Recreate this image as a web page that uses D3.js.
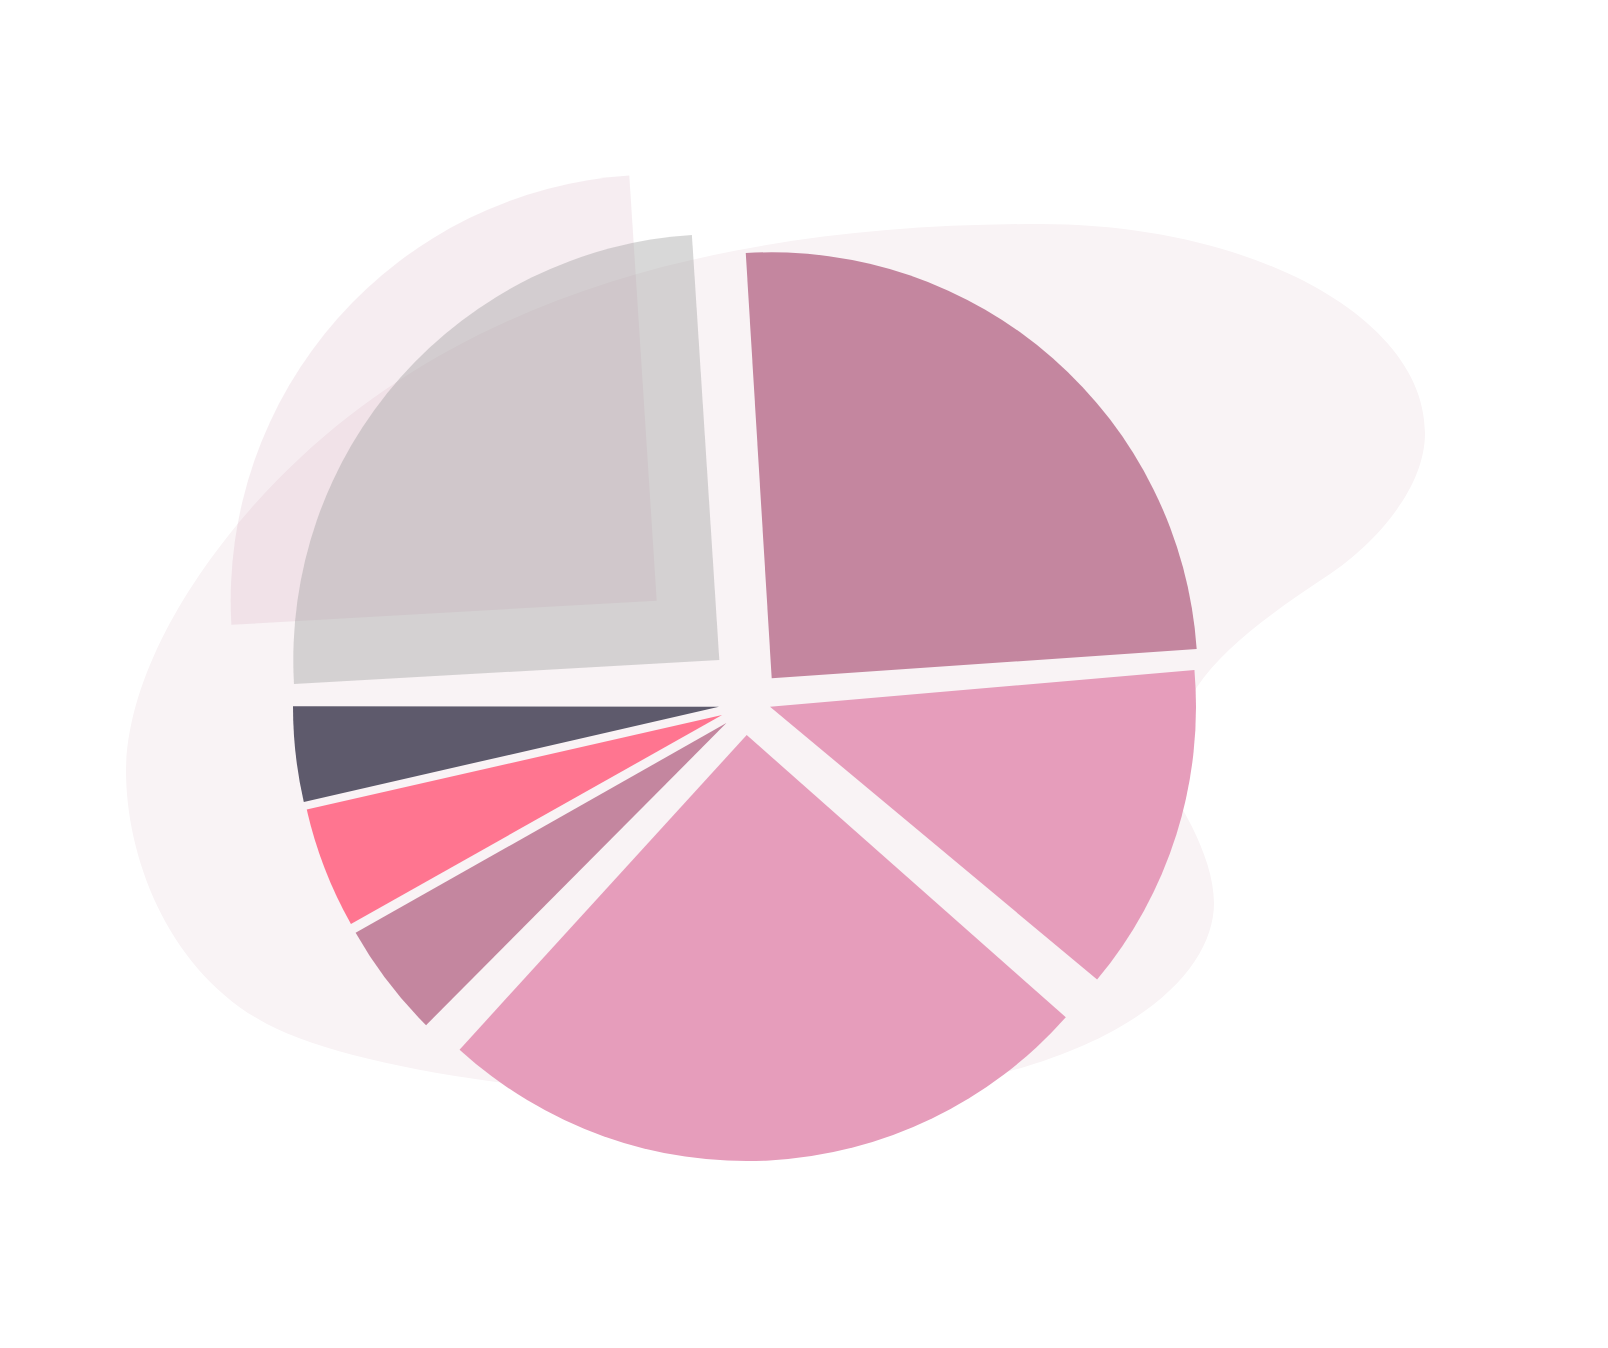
<!DOCTYPE html>
<html>
<head>
<meta charset="utf-8">
<script src="https://cdn.jsdelivr.net/npm/d3@7"></script>
<style>
  html, body { margin: 0; padding: 0; background: #ffffff; }
  svg { display: block; }
</style>
</head>
<body>
<svg id="chart" width="1608" height="1348"></svg>
<script>
// ---- data ----
const categories = ["Segment A", "Segment B", "Segment C", "Segment D", "Segment E", "Segment F", "Segment G"];
const values = [200, 100, 203, 35, 37, 29, 200];

// ---- styles / layout ----
const colors = ["#c4869f", "#e69dbb", "#e69dbb", "#c4869f", "#ff7590", "#5e5a6c", "#a3a3a3"];
const opacities = [1, 1, 1, 1, 1, 1, 0.42];
const explode = [[23.7, -25.7], [22.0, 2.7], [-1.3, 31.0], [-21.6, 19.1], [-25.9, 11.0], [-29.0, 2.7], [-28.7, -44.0]];
const nudgeDeg = [0.2, -0.8, 0.85, 3.3, 3.4, 3.3, 0];
const ghostIndex = 6;
const ghostShift = [-62.6, -59.3];

const width = 1608, height = 1348;
const cx = 748, cy = 704, radius = 426;

const svg = d3.select("#chart");

// background blob (decoration), smooth cubic segments
const blobStart = [126, 770];
const blobSegs = [
  [[128,660],[215,537],[300,458]],
  [[482,288],[740,224],[1040,224]],
  [[1252,224],[1425,318],[1425,433]],
  [[1425,493],[1367.5,549],[1330,574]],
  [[1280,607],[1224.5,645.5],[1197,687]],
  [[1180.5,712],[1135,740],[1150,760]],
  [[1174,792],[1214,853],[1214,903]],
  [[1214,990],[1080,1100],[760,1100]],
  [[580,1100],[355,1071],[267,1024]],
  [[170,973],[126,860],[126,770]]
];
const bp = d3.path();
bp.moveTo(blobStart[0], blobStart[1]);
blobSegs.forEach(([c1, c2, p]) => bp.bezierCurveTo(c1[0], c1[1], c2[0], c2[1], p[0], p[1]));
bp.closePath();
svg.append("path").attr("d", bp.toString()).attr("fill", "#f9f3f5");

const pie = d3.pie().sort(null).value(d => d)
  .startAngle(-3.69 * Math.PI / 180)
  .endAngle(2 * Math.PI - 3.69 * Math.PI / 180);
const arcs = pie(values);
const arc = d3.arc().innerRadius(0).outerRadius(radius);

// ghost trail of the pulled-out slice
svg.append("path")
  .attr("d", arc(arcs[ghostIndex]))
  .attr("transform", `translate(${cx + explode[ghostIndex][0] + ghostShift[0]},${cy + explode[ghostIndex][1] + ghostShift[1]})`)
  .attr("fill", colors[0])
  .attr("fill-opacity", 0.15);

svg.append("g").selectAll("path")
  .data(arcs)
  .join("path")
  .attr("d", arc)
  .attr("transform", (d, i) => `translate(${cx + explode[i][0]},${cy + explode[i][1]}) rotate(${nudgeDeg[i]})`)
  .attr("fill", (d, i) => colors[i])
  .attr("fill-opacity", (d, i) => opacities[i])
  .append("title").text((d, i) => `${categories[i]}: ${values[i]}`);
</script>
</body>
</html>
